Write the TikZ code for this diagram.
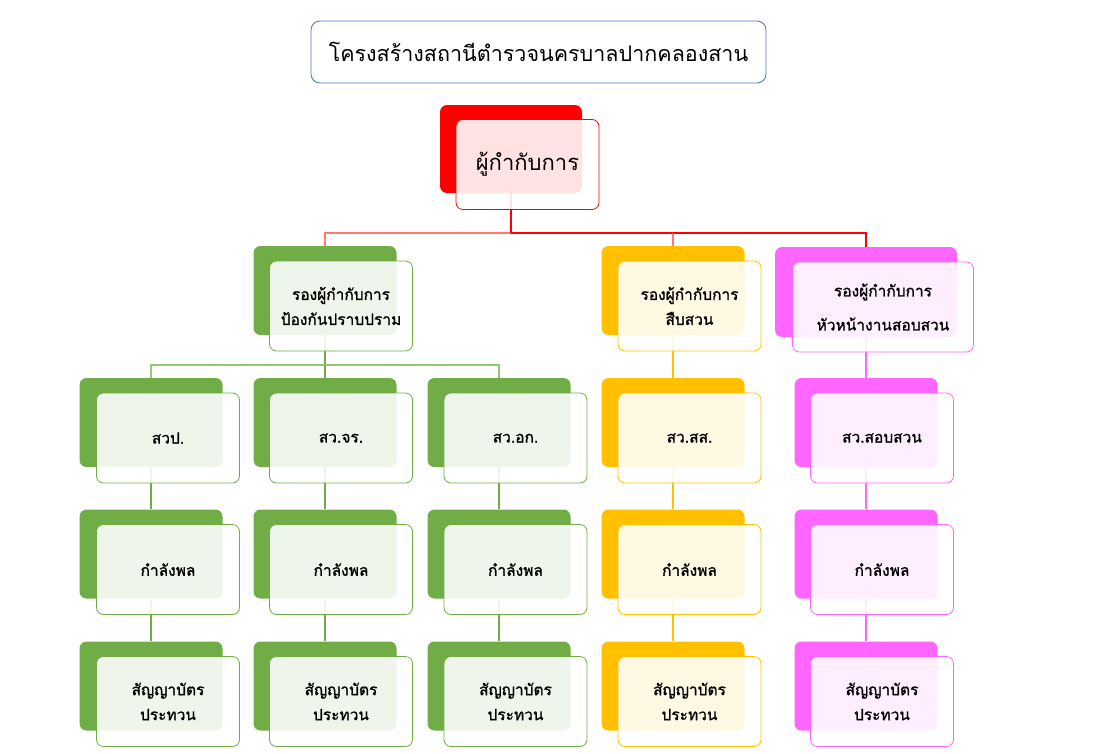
\documentclass[tikz,border=0pt]{standalone}
\usepackage{fontspec}
\newfontfamily\thaifont[Script=Thai]{Loma}
\newfontfamily\thaibold[Script=Thai,FakeBold=1.2]{Loma}
\definecolor{rcol}{RGB}{255,0,0}
\definecolor{rlight}{RGB}{255,120,120}
\definecolor{gcol}{RGB}{112,173,71}
\definecolor{glight}{RGB}{150,200,115}
\definecolor{ycol}{RGB}{255,192,0}
\definecolor{pcol}{RGB}{255,102,255}
\definecolor{tcol}{RGB}{68,114,196}
\tikzset{
	back/.style={fill=#1, rounded corners=7pt, minimum width=143pt, minimum height=89pt, inner sep=0pt},
	front/.style={draw=#1, line width=0.8pt, fill=white, fill opacity=0.89, text opacity=1, rounded corners=7pt, minimum width=143pt, minimum height=90pt, inner sep=0pt, align=center, font=\thaibold\fontsize{15.5}{25}\selectfont},
	conn/.style={draw=#1, line width=1.4pt}
}

\begin{document}
\begin{tikzpicture}[x=1pt, y=-1pt]
	\useasboundingbox (0,0) rectangle (1097,753);
	\node[draw=tcol, line width=0.8pt, rounded corners=9pt, minimum width=455pt, minimum height=62pt, font=\thaifont\fontsize{21.5}{26}\selectfont] (T) at (538.5,52) {โครงสร้างสถานีตำรวจนครบาลปากคลองสาน};
	% back boxes
		\node[back=rcol, minimum width=142pt, minimum height=88pt] (R) at (511,149) {};
		\node[back=gcol] (P) at (325,290.5) {};
		\node[back=ycol] (S) at (673,290.5) {};
		\node[back=pcol, minimum width=182pt, minimum height=90pt] (Q) at (866,292) {};
		\node[back=gcol] (P1) at (151,422.5) {};
		\node[back=gcol] (P2) at (325,422.5) {};
		\node[back=gcol] (P3) at (499,422.5) {};
		\node[back=ycol] (S1) at (673,422.5) {};
		\node[back=pcol] (Q1) at (866,422.5) {};
		\node[back=gcol] (P4) at (151,554) {};
		\node[back=gcol] (P5) at (325,554) {};
		\node[back=gcol] (P6) at (499,554) {};
		\node[back=ycol] (S2) at (673,554) {};
		\node[back=pcol] (Q2) at (866,554) {};
		\node[back=gcol] (P7) at (151,686) {};
		\node[back=gcol] (P8) at (325,686) {};
		\node[back=gcol] (P9) at (499,686) {};
		\node[back=ycol] (S3) at (673,686) {};
		\node[back=pcol] (Q3) at (866,686) {};
	% links
		\coordinate (rbus) at (511,233);
		\coordinate (sbus) at (673,233);
		\coordinate (gbus) at (325,365);
		\draw[conn=rlight] (rbus) -| (P.north);
		\draw[conn=rcol] (rbus) -- (sbus);
		\draw[conn=rlight] (sbus) -- (S.north);
		\draw[conn=rcol] (sbus) -| (Q.north);
		\draw[conn=rcol] (R.south) -- (rbus);
		\draw[conn=gcol] (P.south) -- (gbus);
		\draw[conn=glight] (gbus) -| (P1.north);
		\draw[conn=glight] (gbus) -| (P3.north);
		\draw[conn=gcol] (gbus) -- (P2.north);
		\draw[conn=ycol] (S.south) -- (S1.north);
		\draw[conn=pcol] (Q.south) -- (Q1.north);
		\draw[conn=gcol] (P1.south) -- (P4.north);
		\draw[conn=gcol] (P2.south) -- (P5.north);
		\draw[conn=gcol] (P3.south) -- (P6.north);
		\draw[conn=ycol] (S1.south) -- (S2.north);
		\draw[conn=pcol] (Q1.south) -- (Q2.north);
		\draw[conn=gcol] (P4.south) -- (P7.north);
		\draw[conn=gcol] (P5.south) -- (P8.north);
		\draw[conn=gcol] (P6.south) -- (P9.north);
		\draw[conn=ycol] (S2.south) -- (S3.north);
		\draw[conn=pcol] (Q2.south) -- (Q3.north);
	% front boxes
		\node[front=rcol, font=\thaifont\fontsize{22}{26}\selectfont] (Rf) at (527.5,164.5) {ผู้กำกับการ};
		\node[front=gcol] (Pf) at (341,306) {รองผู้กำกับการ\\ป้องกันปราบปราม};
		\node[front=ycol] (Sf) at (689.5,306) {รองผู้กำกับการ\\สืบสวน};
		\node[front=pcol, minimum width=181pt, font=\thaibold\fontsize{15.5}{34}\selectfont] (Qf) at (883,307) {รองผู้กำกับการ\\หัวหน้างานสอบสวน};
		\node[front=gcol] (P1f) at (168,438) {สวป.};
		\node[front=gcol] (P2f) at (341,438) {สว.จร.};
		\node[front=gcol] (P3f) at (515.5,438) {สว.อก.};
		\node[front=ycol] (S1f) at (689.5,438) {สว.สส.};
		\node[front=pcol] (Q1f) at (882,438) {สว.สอบสวน};
		\node[front=gcol] (P4f) at (168,569.5) {กำลังพล};
		\node[front=gcol] (P5f) at (341,569.5) {กำลังพล};
		\node[front=gcol] (P6f) at (515.5,569.5) {กำลังพล};
		\node[front=ycol] (S2f) at (689.5,569.5) {กำลังพล};
		\node[front=pcol] (Q2f) at (882,569.5) {กำลังพล};
		\node[front=gcol] (P7f) at (168,701.5) {สัญญาบัตร\\ประทวน};
		\node[front=gcol] (P8f) at (341,701.5) {สัญญาบัตร\\ประทวน};
		\node[front=gcol] (P9f) at (515.5,701.5) {สัญญาบัตร\\ประทวน};
		\node[front=ycol] (S3f) at (689.5,701.5) {สัญญาบัตร\\ประทวน};
		\node[front=pcol] (Q3f) at (882,701.5) {สัญญาบัตร\\ประทวน};
\end{tikzpicture}
\end{document}
